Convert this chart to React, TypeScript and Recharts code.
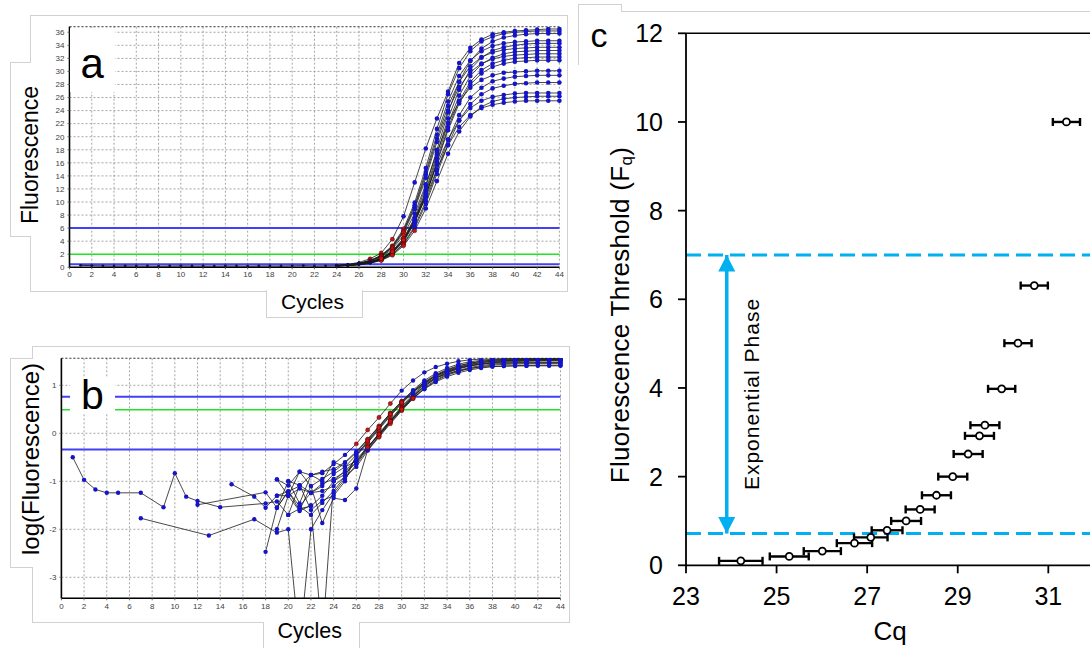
import React from 'react';
import {
  LineChart,
  Line,
  XAxis,
  YAxis,
  CartesianGrid,
  ReferenceLine,
  ComposedChart,
  Scatter,
  ErrorBar,
} from 'recharts';

const FONT = "'Liberation Sans', Arial, Helvetica, sans-serif";

// ---------------- Panel a : amplification curves (linear) ----------------
const ticksCycle = [0, 2, 4, 6, 8, 10, 12, 14, 16, 18, 20, 22, 24, 26, 28, 30, 32, 34, 36, 38, 40, 42, 44];
const ticksFluor = [0, 2, 4, 6, 8, 10, 12, 14, 16, 18, 20, 22, 24, 26, 28, 30, 32, 34, 36];
const baseCyclesA = [1, 2, 3, 4, 5, 6, 7, 8, 9, 10, 11, 12, 13, 14, 15, 16, 17, 18, 19, 20, 21, 22, 23, 24];
const baselineA = [0.3, 0.25, 0.22, 0.2, 0.22, 0.2, 0.2, 0.18, 0.2, 0.22, 0.2, 0.2, 0.18, 0.2, 0.2, 0.18, 0.2, 0.2, 0.2, 0.22, 0.25, 0.2, 0.22, 0.25];
const riseCyclesA = [24, 25, 26, 27, 28, 29, 30, 31, 32, 33, 34, 35, 36, 37, 38, 39, 40, 41, 42, 43, 44];
const a1 = [0.3, 0.45, 0.75, 1.3, 2.2, 4.3, 7.8, 13.0, 18.2, 22.8, 26.9, 31.3, 33.6, 34.9, 35.7, 36.0, 36.2, 36.3, 36.4, 36.5, 36.5];
const a2 = [0.28, 0.39, 0.62, 1.05, 1.85, 3.3, 5.9, 9.9, 15.2, 21.2, 26.5, 30.5, 33.1, 34.6, 35.3, 35.8, 36.0, 36.1, 36.2, 36.2, 36.2];
const a3 = [0.24, 0.32, 0.48, 0.79, 1.36, 2.47, 4.4, 7.6, 12.3, 18.0, 23.7, 28.4, 31.6, 33.5, 34.6, 35.2, 35.5, 35.7, 35.8, 35.8, 35.8];
const a4 = [0.27, 0.38, 0.6, 1.02, 1.78, 3.2, 5.65, 9.5, 14.6, 20.3, 25.4, 29.3, 31.7, 33.1, 33.9, 34.3, 34.5, 34.6, 34.7, 34.7, 34.7];
const a5 = [0.24, 0.31, 0.47, 0.77, 1.31, 2.37, 4.2, 7.3, 11.7, 17.3, 22.8, 27.2, 30.3, 32.1, 33.2, 33.7, 34.0, 34.2, 34.3, 34.3, 34.3];
const a6 = [0.27, 0.38, 0.59, 0.99, 1.73, 3.1, 5.5, 9.2, 14.2, 19.7, 24.7, 28.4, 30.8, 32.2, 32.9, 33.3, 33.5, 33.6, 33.7, 33.7, 33.7];
const a7 = [0.23, 0.31, 0.46, 0.75, 1.28, 2.3, 4.1, 7.1, 11.4, 16.7, 22.0, 26.3, 29.3, 31.1, 32.1, 32.7, 33.0, 33.1, 33.2, 33.2, 33.2];
const a8 = [0.26, 0.37, 0.57, 0.97, 1.68, 3.0, 5.3, 8.9, 13.7, 19.2, 24.0, 27.6, 29.9, 31.2, 31.9, 32.3, 32.5, 32.6, 32.7, 32.7, 32.7];
const a9 = [0.23, 0.3, 0.45, 0.73, 1.24, 2.24, 4.0, 6.9, 11.0, 16.2, 21.4, 25.5, 28.4, 30.2, 31.2, 31.7, 32.0, 32.1, 32.2, 32.2, 32.2];
const a10 = [0.23, 0.3, 0.44, 0.72, 1.22, 2.2, 3.9, 6.8, 10.9, 16.0, 21.0, 25.1, 28.0, 29.7, 30.7, 31.2, 31.5, 31.6, 31.7, 31.7, 31.7];
const a11 = [0.25, 0.35, 0.54, 0.9, 1.56, 2.8, 4.9, 8.2, 12.7, 17.6, 22.1, 25.4, 27.5, 28.7, 29.4, 29.8, 29.9, 30.0, 30.1, 30.1, 30.1];
const a12 = [0.22, 0.29, 0.42, 0.68, 1.15, 2.05, 3.6, 6.3, 10.1, 14.8, 19.5, 23.3, 26.0, 27.5, 28.5, 28.9, 29.2, 29.3, 29.4, 29.4, 29.4];
const a13 = [0.22, 0.29, 0.41, 0.66, 1.11, 1.98, 3.5, 6.0, 9.7, 14.3, 18.8, 22.5, 25.0, 26.5, 27.4, 27.8, 28.1, 28.2, 28.3, 28.3, 28.3];
const a14 = [0.24, 0.33, 0.5, 0.82, 1.4, 2.5, 4.4, 7.3, 11.2, 15.7, 19.6, 22.5, 24.4, 25.5, 26.1, 26.4, 26.6, 26.7, 26.7, 26.7, 26.7];
const a15 = [0.22, 0.28, 0.39, 0.62, 1.04, 1.85, 3.3, 5.6, 9.0, 13.2, 17.4, 20.8, 23.1, 24.6, 25.4, 25.8, 26.0, 26.1, 26.2, 26.2, 26.2];
const a16 = [0.24, 0.32, 0.48, 0.79, 1.34, 2.39, 4.2, 7.0, 10.7, 15.0, 18.7, 21.5, 23.3, 24.4, 24.9, 25.2, 25.4, 25.5, 25.5, 25.5, 25.5];
const curvesA = [a1, a2, a3, a4, a5, a6, a7, a8, a9, a10, a11, a12, a13, a14, a15, a16];
const thresholdsA = [6, 2, 0.45];
const yMaxA = 36.85;

// ---------------- Panel b : log(Fluorescence) ----------------
const ticksLog = [-3, -2, -1, 0, 1];
const lowCyclesB = [1, 2, 3, 4, 5, 6, 7, 8, 9, 10, 11, 12, 13, 14, 15, 16];
const highCyclesB = [17, 18, 19, 20, 21, 22, 23, 24, 25, 26, 27, 28, 29, 30, 31, 32, 33, 34, 35, 36, 37, 38, 39, 40, 41, 42, 43, 44];
const bLowA = [-0.5, -0.97, -1.17, -1.24, -1.24, null, -1.24, null, -1.54, -0.83, -1.32, -1.41, null, -1.54, null, null];
const bLowB = [null, null, null, null, null, null, null, null, null, null, null, -1.49, null, null, null, null];
const bLowC = [null, null, null, null, null, null, null, null, null, null, null, null, null, null, -1.06, null];
const bLowD = [null, null, null, null, null, null, -1.77, null, null, null, null, null, -2.13, null, null, null];
const b1 = [null, -2.47, -1.55, -1.21, -1.1, -0.87, -0.83, -0.64, -0.45, -0.22, 0.07, 0.33, 0.62, 0.89, 1.1, 1.27, 1.38, 1.45, 1.5, 1.53, 1.545, 1.55, 1.555, 1.56, 1.56, 1.562, 1.562, 1.562];
const b2 = [null, null, -0.96, -1.09, -0.8, -1.1, -0.95, -0.8, -0.62, -0.4, -0.13, 0.14, 0.42, 0.67, 0.9, 1.1, 1.25, 1.36, 1.44, 1.49, 1.52, 1.54, 1.55, 1.555, 1.557, 1.558, 1.558, 1.558];
const b3 = [null, null, -1.3, -1.3, -1.15, -1.24, -1.05, -0.95, -0.8, -0.62, -0.3, 0.0, 0.28, 0.56, 0.81, 1.03, 1.2, 1.32, 1.4, 1.46, 1.5, 1.52, 1.54, 1.545, 1.55, 1.552, 1.553, 1.553];
const b4 = [null, -1.23, -1.55, -1.0, -1.08, -1.24, -1.1, -0.85, -0.7, -0.45, -0.18, 0.1, 0.38, 0.64, 0.87, 1.07, 1.22, 1.33, 1.41, 1.46, 1.5, 1.52, 1.53, 1.535, 1.538, 1.539, 1.539, 1.539];
const b5 = [null, -1.46, -1.42, -1.7, -1.57, -1.52, -1.3, -1.0, -0.78, -0.55, -0.28, -0.02, 0.26, 0.53, 0.78, 1.0, 1.17, 1.29, 1.37, 1.43, 1.47, 1.5, 1.515, 1.525, 1.53, 1.533, 1.534, 1.534];
const b6 = [-1.32, -1.55, -1.3, -1.21, -1.52, -1.7, -1.45, -1.2, -0.9, -0.48, -0.2, 0.08, 0.36, 0.62, 0.85, 1.05, 1.2, 1.31, 1.38, 1.44, 1.48, 1.5, 1.51, 1.52, 1.524, 1.526, 1.526, 1.526];
const b7 = [-1.79, null, -2.07, -2.0, -4.4, -2.0, -1.6, -1.25, -0.95, -0.65, -0.33, -0.05, 0.24, 0.51, 0.76, 0.98, 1.15, 1.27, 1.35, 1.41, 1.45, 1.48, 1.5, 1.51, 1.515, 1.518, 1.52, 1.52];
const b8 = [null, null, -2.0, -1.3, -1.62, -1.5, -4.3, -1.0, -0.85, -0.6, -0.3, -0.03, 0.25, 0.52, 0.77, 0.98, 1.14, 1.26, 1.34, 1.4, 1.44, 1.47, 1.485, 1.495, 1.5, 1.505, 1.507, 1.507];
const b9 = [null, null, null, -1.0, -1.46, -0.87, -0.8, -0.75, -0.6, -0.38, -0.12, 0.15, 0.42, 0.66, 0.88, 1.06, 1.19, 1.29, 1.36, 1.41, 1.44, 1.46, 1.47, 1.474, 1.476, 1.477, 1.477, 1.477];
const b10 = [null, null, -1.55, -1.21, -1.6, -1.1, -1.87, -1.35, -1.39, -1.15, -0.35, -0.06, 0.22, 0.49, 0.74, 0.95, 1.11, 1.23, 1.31, 1.37, 1.41, 1.44, 1.455, 1.46, 1.464, 1.466, 1.467, 1.467];
const b11 = [null, null, null, null, -1.52, -1.24, -1.2, -1.1, -0.9, -0.7, -0.36, -0.08, 0.2, 0.47, 0.72, 0.93, 1.09, 1.21, 1.29, 1.35, 1.39, 1.42, 1.435, 1.443, 1.447, 1.449, 1.45, 1.45];
const b12 = [null, null, -0.96, -1.3, -0.8, -0.87, -1.0, -0.6, -0.7, -0.58, -0.29, -0.02, 0.25, 0.5, 0.73, 0.92, 1.07, 1.18, 1.26, 1.32, 1.36, 1.39, 1.4, 1.41, 1.414, 1.416, 1.417, 1.417];
const b13 = [null, null, null, -1.7, -1.08, -1.6, -1.4, -1.3, -1.0, -0.45, -0.16, 0.12, 0.4, 0.64, 0.86, 1.03, 1.15, 1.24, 1.3, 1.35, 1.38, 1.39, 1.4, 1.402, 1.404, 1.405, 1.405, 1.405];
const curvesB = [b1, b2, b3, b4, b5, b6, b7, b8, b9, b10, b11, b12, b13];
const lowPartsB: Record<number, (number | null)[]> = { 3: bLowB, 4: bLowA, 5: bLowC, 6: bLowD };
const thresholdsB = [0.76, 0.49, -0.34];
const yDomainB: [number, number] = [-3.4375, 1.5625];

// ---------------- Panel c : threshold vs Cq ----------------
const cqValues = [24.21, 25.28, 26.01, 26.72, 27.08, 27.44, 27.86, 28.17, 28.53, 28.89, 29.23, 29.48, 29.6, 29.97, 30.33, 30.69, 31.4];
const fqValues = [0.1, 0.2, 0.32, 0.5, 0.63, 0.79, 1.0, 1.26, 1.58, 2.0, 2.51, 2.92, 3.16, 3.98, 5.01, 6.31, 10.0];
const cqErrors = [0.48, 0.43, 0.41, 0.39, 0.37, 0.34, 0.33, 0.32, 0.32, 0.32, 0.32, 0.32, 0.32, 0.3, 0.3, 0.3, 0.3];
const ticksCq = [23, 25, 27, 29, 31];
const ticksFq = [0, 2, 4, 6, 8, 10, 12];
const phaseTop = 7;
const phaseBottom = 0.72;
const arrowCq = 23.9;

// ---------------- tables built from the arrays ----------------
const allCycles = [...baseCyclesA, ...riseCyclesA.slice(1)];
const rowsA = allCycles.map((c) => {
  const row: Record<string, number> = { c };
  const bi = baseCyclesA.indexOf(c);
  if (bi >= 0) row.base = baselineA[bi];
  const ri = riseCyclesA.indexOf(c);
  if (ri >= 0) curvesA.forEach((arr, j) => (row['a' + j] = arr[ri]));
  return row;
});

const cyclesB = [...lowCyclesB, ...highCyclesB];
const rowsB = cyclesB.map((c) => {
  const row: Record<string, number | null> = { c };
  const li = lowCyclesB.indexOf(c);
  const hi = highCyclesB.indexOf(c);
  curvesB.forEach((arr, j) => {
    let v: number | null = null;
    if (li >= 0) v = lowPartsB[j] ? lowPartsB[j][li] : null;
    if (hi >= 0) v = arr[hi];
    row['b' + j] = v;
  });
  return row;
});

const pointsC = cqValues.map((cq, i) => ({ cq, fq: fqValues[i], err: cqErrors[i] }));
const arrowPts = [
  { cq: arrowCq, fq: phaseTop, dir: 1 },
  { cq: arrowCq, fq: phaseBottom, dir: -1 },
];

// ---------------- styles ----------------
const BLUE_DOT = '#1414c8';
const RED_DOT = '#c81414';
const LINE_BLUE = '#4141f5';
const LINE_GREEN = '#22e622';
const CYAN = '#00b0f0';

function dotA(props: any) {
  const { cx, cy, value, payload, index, dataKey } = props;
  const key = `${dataKey}-${index}`;
  if (cx == null || cy == null || value == null || Number.isNaN(cy)) return <g key={key} />;
  const v = Array.isArray(value) ? value[1] : value;
  if (v >= 6) return <circle key={key} cx={cx} cy={cy} r={2.3} fill={BLUE_DOT} stroke="none" />;
  if (v > 1.0 && payload.c >= 26) return <circle key={key} cx={cx} cy={cy} r={2.1} fill={RED_DOT} stroke="#300" strokeWidth={0.4} />;
  return <circle key={key} cx={cx} cy={cy} r={1.4} fill="#11114a" stroke="none" />;
}

function dotB(props: any) {
  const { cx, cy, value, payload, index, dataKey } = props;
  const key = `${dataKey}-${index}`;
  if (cx == null || cy == null || value == null || Number.isNaN(cy)) return <g key={key} />;
  const v = Array.isArray(value) ? value[1] : value;
  if (v < yDomainB[0]) return <g key={key} />;
  if (payload.c >= 25 && v > -0.36 && v < 0.76)
    return <circle key={key} cx={cx} cy={cy} r={2.1} fill={RED_DOT} stroke="#300" strokeWidth={0.4} />;
  return <circle key={key} cx={cx} cy={cy} r={2.2} fill={BLUE_DOT} stroke="none" />;
}

function circleShape(props: any) {
  const { cx, cy } = props;
  return <circle cx={cx} cy={cy} r={3.5} fill="#fff" stroke="#000" strokeWidth={1.8} />;
}

function arrowHead(props: any) {
  const { cx, cy, payload } = props;
  const d = payload.dir;
  const h = 16.5;
  const w = 8.5;
  const pts = `${cx},${cy} ${cx - w},${cy + d * h} ${cx + w},${cy + d * h}`;
  return <polygon points={pts} fill={CYAN} stroke="none" />;
}

const smallTick = { fontSize: 8, fill: '#404040', fontFamily: FONT };
const gridStroke = '#8e8e8e';

function box(left: number, top: number, width: number, height: number, extra: React.CSSProperties = {}): React.CSSProperties {
  return { position: 'absolute', left, top, width, height, boxSizing: 'border-box', background: '#fff', ...extra };
}

function vText(text: string, cx: number, cy: number, fontSize: number, extra: React.CSSProperties = {}) {
  return (
    <div
      style={{
        position: 'absolute',
        left: cx,
        top: cy,
        transform: 'translate(-50%, -50%) rotate(-90deg)',
        whiteSpace: 'nowrap',
        fontSize,
        lineHeight: 1,
        fontFamily: FONT,
        color: '#000',
        ...extra,
      }}
    >
      {text}
    </div>
  );
}

function hText(text: string, left: number, top: number, fontSize: number, extra: React.CSSProperties = {}) {
  return (
    <div style={{ position: 'absolute', left, top, fontSize, lineHeight: 1, fontFamily: FONT, color: '#000', whiteSpace: 'nowrap', ...extra }}>
      {text}
    </div>
  );
}

const yLabelC = () => (
  <text
    x={40}
    y={315}
    transform="rotate(-90 40 315)"
    textAnchor="middle"
    dominantBaseline="central"
    fontSize={26}
    fontFamily={FONT}
    fill="#000"
    letterSpacing={0.3}
  >
    Fluorescence Threshold (F<tspan dy={6} fontSize={17}>q</tspan>
    <tspan dy={-6}>)</tspan>
  </text>
);

const xLabelC = () => (
  <text x={310} y={640} textAnchor="middle" fontSize={26} fontFamily={FONT} fill="#000">
    Cq
  </text>
);

const BORDER = '1px solid #d2d2d2';

export default function App() {
  return (
    <div style={{ position: 'absolute', left: 0, top: 0, width: 1090, height: 648, overflow: 'hidden', background: '#fff', fontFamily: FONT }}>
      {/* frames of panels a and b */}
      <div style={box(30, 15, 538, 277, { border: BORDER })} />
      <div style={box(32, 346, 538, 277, { border: BORDER })} />
      {/* frame of panel c */}
      <div style={{ position: 'absolute', left: 578, top: 4, width: 43, height: 60, borderLeft: BORDER, borderTop: BORDER }} />
      <div style={{ position: 'absolute', left: 621, top: 4, width: 480, height: 8, borderLeft: BORDER }} />
      <div style={{ position: 'absolute', left: 621, top: 11, width: 480, height: 1, borderTop: BORDER }} />

      {/* Panel a */}
      <div style={{ position: 'absolute', left: 0, top: 0 }}>
        <LineChart width={580} height={300} data={rowsA} margin={{ top: 26.7, right: 20.6, bottom: 12.7, left: 39.5 }}>
          <CartesianGrid stroke={gridStroke} strokeDasharray="2 2" strokeWidth={0.8} />
          <XAxis
            type="number"
            dataKey="c"
            domain={[0, 44]}
            ticks={ticksCycle}
            interval={0}
            height={20}
            tick={smallTick}
            tickSize={2}
            tickMargin={2}
            axisLine={{ stroke: '#000', strokeWidth: 1.6 }}
            tickLine={{ stroke: '#666' }}
          />
          <YAxis
            type="number"
            domain={[0, yMaxA]}
            ticks={ticksFluor}
            interval={0}
            width={30}
            tick={smallTick}
            tickSize={2}
            tickMargin={3}
            allowDataOverflow
            axisLine={{ stroke: '#000', strokeWidth: 1.6 }}
            tickLine={{ stroke: '#666' }}
          />
          <ReferenceLine y={yMaxA} stroke="#555" strokeDasharray="2 2" />
          <ReferenceLine y={thresholdsA[0]} stroke={LINE_BLUE} strokeWidth={2} />
          <ReferenceLine y={thresholdsA[1]} stroke={LINE_GREEN} strokeWidth={1.6} />
          <ReferenceLine y={thresholdsA[2]} stroke={LINE_BLUE} strokeWidth={2} />
          <Line dataKey="base" stroke="#1a1a1a" strokeWidth={0.9} dot={dotA} isAnimationActive={false} />
          {curvesA.map((_, j) => (
            <Line key={'a' + j} dataKey={'a' + j} stroke="#1a1a1a" strokeWidth={0.8} dot={dotA} isAnimationActive={false} />
          ))}
        </LineChart>
      </div>

      {/* Panel b */}
      <div style={{ position: 'absolute', left: 0, top: 330 }}>
        <LineChart width={580} height={318} data={rowsB} margin={{ top: 28.3, right: 19.5, bottom: 29.7, left: 31.4 }}>
          <CartesianGrid stroke={gridStroke} strokeDasharray="2 2" strokeWidth={0.8} />
          <XAxis
            type="number"
            dataKey="c"
            domain={[0, 44]}
            ticks={ticksCycle}
            interval={0}
            height={20}
            tick={smallTick}
            tickSize={2}
            tickMargin={3}
            axisLine={{ stroke: '#000', strokeWidth: 1.6 }}
            tickLine={{ stroke: '#666' }}
          />
          <YAxis
            type="number"
            domain={yDomainB}
            ticks={ticksLog}
            interval={0}
            width={30}
            tick={smallTick}
            tickSize={2}
            tickMargin={3}
            allowDataOverflow
            axisLine={{ stroke: '#000', strokeWidth: 1.6 }}
            tickLine={{ stroke: '#666' }}
          />
          <ReferenceLine y={yDomainB[1]} stroke="#555" strokeDasharray="2 2" />
          <ReferenceLine y={thresholdsB[0]} stroke={LINE_BLUE} strokeWidth={2} />
          <ReferenceLine y={thresholdsB[1]} stroke={LINE_GREEN} strokeWidth={1.6} />
          <ReferenceLine y={thresholdsB[2]} stroke={LINE_BLUE} strokeWidth={2} />
          {curvesB.map((_, j) => (
            <Line
              key={'b' + j}
              dataKey={'b' + j}
              stroke="#1a1a1a"
              strokeWidth={0.8}
              dot={dotB}
              connectNulls
              isAnimationActive={false}
            />
          ))}
        </LineChart>
      </div>

      {/* Panel c */}
      <div style={{ position: 'absolute', left: 580, top: 0 }}>
        <ComposedChart width={520} height={648} margin={{ top: 33.3, right: 6.4, bottom: 0, left: 0 }}>
          <XAxis
            type="number"
            dataKey="cq"
            domain={[23, 32]}
            ticks={ticksCq}
            interval={0}
            height={82.7}
            tickSize={8}
            tickMargin={14}
            tick={{ fontSize: 25, fill: '#000', fontFamily: FONT }}
            axisLine={{ stroke: '#000', strokeWidth: 1.8 }}
            tickLine={{ stroke: '#000', strokeWidth: 1.8 }}
            label={xLabelC}
          />
          <YAxis
            type="number"
            dataKey="fq"
            domain={[0, 12]}
            ticks={ticksFq}
            interval={0}
            width={106}
            tickSize={8}
            tickMargin={15}
            tick={{ fontSize: 25, fill: '#000', fontFamily: FONT }}
            axisLine={{ stroke: '#000', strokeWidth: 1.8 }}
            tickLine={{ stroke: '#000', strokeWidth: 1.8 }}
            label={yLabelC}
          />
          <ReferenceLine y={12} stroke="#000" strokeWidth={1.6} />
          <ReferenceLine y={phaseTop} stroke={CYAN} strokeWidth={3} strokeDasharray="15 7" />
          <ReferenceLine y={phaseBottom} stroke={CYAN} strokeWidth={3} strokeDasharray="15 7" />
          <ReferenceLine
            segment={[
              { x: arrowCq, y: phaseBottom },
              { x: arrowCq, y: phaseTop },
            ]}
            stroke={CYAN}
            strokeWidth={3.5}
          />
          <Scatter data={arrowPts} dataKey="fq" shape={arrowHead} isAnimationActive={false} />
          <Scatter data={pointsC} dataKey="fq" shape={circleShape} isAnimationActive={false}>
            <ErrorBar dataKey="err" direction="x" width={4} stroke="#000" strokeWidth={2.4} />
          </Scatter>
        </ComposedChart>
      </div>

      {/* overlays: panel a */}
      <div style={box(70, 28, 45, 64)} />
      {hText('a', 80.5, 42.7, 42)}
      <div style={box(10, 62, 21, 175, { borderLeft: BORDER, borderTop: BORDER, borderBottom: BORDER })} />
      {vText('Fluorescence', 29.5, 155, 23)}
      <div style={box(266, 290, 97, 28, { borderLeft: BORDER, borderRight: BORDER, borderBottom: BORDER })} />
      {hText('Cycles', 281, 290.5, 21)}

      {/* overlays: panel b */}
      <div style={box(70, 377, 45, 36)} />
      {hText('b', 81, 375.3, 41)}
      <div style={box(10, 358, 23, 210, { borderLeft: BORDER, borderTop: BORDER, borderBottom: BORDER })} />
      {vText('log(Fluorescence)', 31.4, 459, 24)}
      <div style={box(263, 622, 97, 30, { borderLeft: BORDER, borderRight: BORDER })} />
      {hText('Cycles', 277.5, 621, 21.5)}

      {/* overlays: panel c */}
      {hText('c', 590.5, 18.2, 34)}
      {vText('Exponential Phase', 751, 394, 21, { letterSpacing: 1 })}
    </div>
  );
}
